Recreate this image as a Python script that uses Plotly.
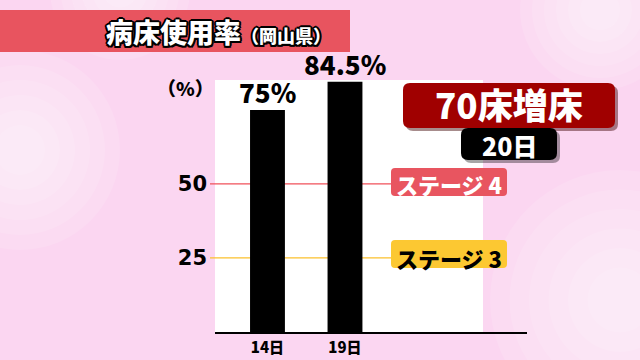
import plotly.graph_objects as go

# ---- data ----
categories = ["14日", "19日"]
values = [75, 84.5]
value_labels = ["75%", "84.5%"]
stage_levels = [50, 25]
stage_names = ["ステージ 4", "ステージ 3"]
tick_vals = [25, 50]
tick_text = ["25", "50"]

# ---- layout geometry (pixels) ----
W, H = 640, 360
L, R, T, B = 215, 527, 80, 332
Y_MAX = 85.1


def px(x):
    return (x - L) / (R - L)


def py(y):
    return (B - y) / (B - T)


def rrect(x0, y0, x1, y1, r):
    pts = [
        ("M", [(x0 + r, y0)]), ("L", [(x1 - r, y0)]), ("Q", [(x1, y0), (x1, y0 + r)]),
        ("L", [(x1, y1 - r)]), ("Q", [(x1, y1), (x1 - r, y1)]),
        ("L", [(x0 + r, y1)]), ("Q", [(x0, y1), (x0, y1 - r)]),
        ("L", [(x0, y0 + r)]), ("Q", [(x0, y0), (x0 + r, y0)]),
    ]
    s = ""
    for cmd, ps in pts:
        s += cmd + " " + " ".join(f"{px(a):.5f},{py(b):.5f}" for a, b in ps) + " "
    return s + "Z"


JP = "Noto Sans CJK JP"

fig = go.Figure()
fig.add_trace(go.Bar(
    x=categories, y=values, width=0.45,
    marker=dict(color="black", line=dict(width=0)),
))

shapes = []
# soft background blobs (layered low-opacity circles)
for (cx, cy, rad) in [(20, 150, 100), (620, 300, 130), (600, 10, 80), (120, -10, 70)]:
    for k in range(6):
        rr = rad * (1 - k * 0.15)
        shapes.append(dict(type="circle", xref="paper", yref="paper",
                           x0=px(cx - rr), x1=px(cx + rr), y0=py(cy + rr), y1=py(cy - rr),
                           fillcolor="white", opacity=0.12, line=dict(width=0), layer="below"))
# white chart panel
shapes.append(dict(type="rect", xref="paper", yref="paper", x0=px(215), x1=px(483), y0=0, y1=py(80),
                   fillcolor="white", line=dict(width=0), layer="below"))
# title band
shapes.append(dict(type="rect", xref="paper", yref="paper", x0=px(0), x1=px(350), y0=py(52), y1=py(10),
                   fillcolor="#e8545f", line=dict(width=0)))
# stage lines
stage_colors = ["#f0505a", "#fbc02d"]
for lvl, col in zip(stage_levels, stage_colors):
    shapes.append(dict(type="line", xref="paper", yref="y", x0=px(210), x1=px(392), y0=lvl, y1=lvl,
                       line=dict(color=col, width=1.3), layer="below"))
# stage label boxes
shapes.append(dict(type="path", xref="paper", yref="paper", path=rrect(391, 168, 507, 196, 4),
                   fillcolor="#e85560", line=dict(width=0)))
shapes.append(dict(type="path", xref="paper", yref="paper", path=rrect(391, 240, 507, 268, 4),
                   fillcolor="#fcc832", line=dict(width=0)))
# 70床増床 box + shadow
shapes.append(dict(type="path", xref="paper", yref="paper", path=rrect(406, 86, 618, 131, 7),
                   fillcolor="rgba(60,0,0,0.45)", line=dict(width=0)))
shapes.append(dict(type="path", xref="paper", yref="paper", path=rrect(403, 83, 615, 128, 7),
                   fillcolor="#a00000", line=dict(width=0)))
# 20日 box + shadow
shapes.append(dict(type="path", xref="paper", yref="paper", path=rrect(464, 131, 560, 163, 7),
                   fillcolor="rgba(0,0,0,0.35)", line=dict(width=0)))
shapes.append(dict(type="path", xref="paper", yref="paper", path=rrect(461, 128, 557, 160, 7),
                   fillcolor="black", line=dict(width=0)))

outline = "2px 0 0 #000, -2px 0 0 #000, 0 2px 0 #000, 0 -2px 0 #000, 1.5px 1.5px 0 #000, -1.5px -1.5px 0 #000, 1.5px -1.5px 0 #000, -1.5px 1.5px 0 #000"

annotations = [
    dict(x=px(333), y=py(31), xref="paper", yref="paper", xanchor="right", yanchor="middle",
         text='病床使用率<span style="font-size:18px">（岡山県）</span>', showarrow=False,
         font=dict(family=JP, size=27, color="white", weight=900, shadow=outline)),
    dict(x=px(185), y=py(87), xref="paper", yref="paper", xanchor="center", yanchor="middle",
         text="（%）", showarrow=False, font=dict(family=JP, size=19, color="black", weight=900)),
    dict(x=px(509), y=py(103), xref="paper", yref="paper", xanchor="center", yanchor="middle",
         text="70床増床", showarrow=False, font=dict(family=JP, size=35, color="white", weight=900)),
    dict(x=px(509), y=py(144.5), xref="paper", yref="paper", xanchor="center", yanchor="middle",
         text="20日", showarrow=False, font=dict(family=JP, size=25, color="white", weight=900)),
]
for cat, v, lab in zip(categories, values, value_labels):
    annotations.append(dict(x=cat, y=v, xref="x", yref="y", xanchor="center", yanchor="bottom",
                            yshift=-2, text=lab, showarrow=False,
                            font=dict(family=JP, size=26, color="black", weight=900)))
for lvl, name, tc in zip(stage_levels, stage_names, ["white", "black"]):
    annotations.append(dict(x=px(449), y=lvl, xref="paper", yref="y", xanchor="center", yanchor="middle",
                            text=name, showarrow=False,
                            font=dict(family=JP, size=22, color=tc, weight=900)))

fig.update_layout(
    width=W, height=H, margin=dict(l=L, r=W - R, t=T, b=H - B, autoexpand=False),
    paper_bgcolor="#fbd6f1", plot_bgcolor="rgba(0,0,0,0)",
    showlegend=False, shapes=shapes, annotations=annotations,
    xaxis=dict(type="category", range=[-0.677, 3.348], showline=True, linecolor="black", linewidth=2,
               ticks="", showgrid=False, zeroline=False, fixedrange=True, automargin=False,
               tickfont=dict(family=JP, size=15, color="black", weight=900), ticklabelstandoff=1),
    yaxis=dict(range=[0, Y_MAX], showgrid=False, zeroline=False, showline=False, automargin=False,
               tickvals=tick_vals, ticktext=tick_text, ticks="",
               tickfont=dict(family="DejaVu Sans", size=21, color="black", weight="bold"),
               ticklabelstandoff=7),
)

fig.write_html("out.html")
